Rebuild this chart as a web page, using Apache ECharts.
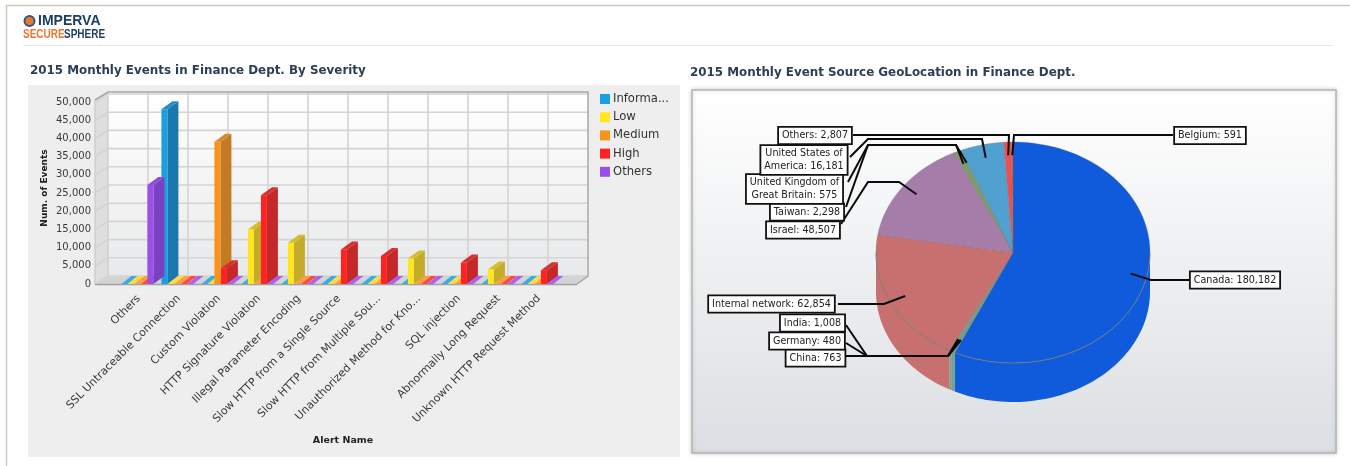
<!DOCTYPE html>
<html>
<head>
<meta charset="utf-8">
<style>
  html, body { margin: 0; padding: 0; background: #fff; }
  #main { width: 1350px; height: 466px; }
</style>
<script src="https://cdn.jsdelivr.net/npm/echarts@6/dist/echarts.min.js"></script>
</head>
<body>
<div id="main"></div>
<script>
const categories = ['Others', 'SSL Untraceable Connection', 'Custom Violation', 'HTTP Signature Violation',
  'Illegal Parameter Encoding', 'Slow HTTP from a Single Source', 'Slow HTTP from Multiple Sou...',
  'Unauthorized Method for Kno...', 'SQL injection', 'Abnormally Long Request', 'Unknown HTTP Request Method'];
const informational = [0, 48000, 0, 0, 0, 0, 0, 0, 0, 0, 0];
const low = [0, 0, 0, 15000, 11300, 0, 0, 7000, 0, 4000, 0];
const medium = [0, 0, 39100, 0, 0, 0, 0, 0, 0, 0, 0];
const high = [0, 0, 4300, 24400, 0, 9500, 7700, 0, 5900, 0, 3800];
const others = [27200, 0, 0, 0, 0, 0, 0, 0, 0, 0, 0];
const yTicks = [0, 5000, 10000, 15000, 20000, 25000, 30000, 35000, 40000, 45000, 50000];

const geoNames = ['Canada', 'China', 'Germany', 'India', 'Internal network', 'Israel', 'Taiwan',
  'United Kingdom of\nGreat Britain', 'United States of\nAmerica', 'Others', 'Belgium'];
const geoValues = [180182, 763, 480, 1008, 62854, 48507, 2298, 575, 16181, 2807, 591];

// front / side / floor colours per severity
const severity = [
  { name: 'Informa...', data: informational, front: '#1a9fe4', side: '#1b78ae', top: '#2a8cc4', flat: '#35ace8' },
  { name: 'Low', data: low, front: '#ffe61e', side: '#c4ac2a', top: '#d4bc30', flat: '#ffdc40' },
  { name: 'Medium', data: medium, front: '#f8941e', side: '#c47a22', top: '#d48a2a', flat: '#fba03c' },
  { name: 'High', data: high, front: '#ff2222', side: '#c42828', top: '#d43030', flat: '#ff4a3a' },
  { name: 'Others', data: others, front: '#9a50e8', side: '#7a40c2', top: '#8a4cd4', flat: '#aa60ee' }
];
const geoColors = ['#0f5bdc', '#74a08a', '#74a08a', '#74a08a', '#c87070', '#a67ca8', '#7c9c6c', '#7c9c6c', '#50a0d0', '#ee5050', '#ee5050'];

// label boxes and the elbows of their leader lines
const geoLabels = {
  'Canada': { x: 1235, y: 280, from: [1189, 280], bends: [[1151, 280]] },
  'China': { x: 815.5, y: 358, from: [846, 356], bends: [[867, 356], [948, 356]] },
  'Germany': { x: 807, y: 341, from: [846, 343], bends: [[867, 356], [948, 356]] },
  'India': { x: 812.5, y: 323, from: [846, 325], bends: [[867, 356], [948, 356]] },
  'Internal network': { x: 771.5, y: 304, from: [838, 304], bends: [[884, 304]] },
  'Israel': { x: 803, y: 230, from: [841, 224], bends: [[868, 182], [899, 182]] },
  'Taiwan': { x: 807, y: 212, from: [846, 207], bends: [[868, 145], [956, 145]] },
  'United Kingdom of\nGreat Britain': { x: 794.5, y: 189, from: [848, 182], bends: [[868, 145], [956, 145]] },
  'United States of\nAmerica': { x: 804, y: 160, from: [850, 157], bends: [[868, 139], [982, 139]] },
  'Others': { x: 815, y: 135.5, from: [853, 135], bends: [[1009, 135]] },
  'Belgium': { x: 1210, y: 135.5, from: [1173, 135], bends: [[1014, 135]] }
};

const chart = echarts.init(document.getElementById('main'));

// pie is an ellipse on screen, so it is built from the values here
const pieCx = 1013, pieCy = 252.5, pieRx = 137, pieRy = 110.5, pieDepth = 39;
const geoTotal = geoValues.reduce((a, b) => a + b, 0);
function sliceAngles(i) {
  let sum = 0;
  for (let k = 0; k < i; k++) sum += geoValues[k];
  return [sum / geoTotal * 360, (sum + geoValues[i]) / geoTotal * 360];
}
function rimPoint(deg, f, drop) {
  const a = deg * Math.PI / 180;
  return [pieCx + pieRx * f * Math.sin(a), pieCy - pieRy * f * Math.cos(a) + (drop || 0)];
}
function arcPoints(a0, a1, drop) {
  const pts = [];
  const n = Math.max(2, Math.ceil((a1 - a0) / 2));
  for (let k = 0; k <= n; k++) pts.push(rimPoint(a0 + (a1 - a0) * k / n, 1, drop));
  return pts;
}

function renderWalls(params, api) {
  const o = api.coord([0, 0]);
  const floorY = o[1];
  const topY = api.coord([0, 50000])[1];
  const left = 95, right = 577, dx = 13, dy = 8;
  const kids = [
    { type: 'polygon', shape: { points: [[left + dx, floorY - dy], [right + dx - 2, floorY - dy], [right + dx - 2, topY - 10], [left + dx, topY - 10]] },
      style: { fill: new echarts.graphic.LinearGradient(0, 0, 0, 1, [{ offset: 0, color: '#ffffff' }, { offset: 1, color: '#e8e9ea' }]) } },
    { type: 'polygon', shape: { points: [[left, floorY], [left + dx, floorY - dy], [left + dx, topY - 10], [left, topY - 2]] },
      style: { fill: '#dedede', stroke: '#c4c4c4', lineWidth: 1 } },
    { type: 'polygon', shape: { points: [[left, floorY], [right, floorY], [right + dx - 2, floorY - dy], [left + dx, floorY - dy]] },
      style: { fill: '#d4d4d4' } }
  ];
  yTicks.forEach(function (t) {
    const y = api.coord([0, t])[1];
    kids.push({ type: 'polyline', shape: { points: [[left, y], [left + dx, y - dy], [right + dx - 2, y - dy]] },
      style: { fill: 'none', stroke: '#d4d4d4', lineWidth: 1.6 } });
  });
  categories.forEach(function (c, i) {
    const x = api.coord([i, 0])[0] + dx;
    kids.push({ type: 'line', shape: { x1: x, y1: topY - 10, x2: x, y2: floorY - dy },
      style: { stroke: '#d4d4d4', lineWidth: 1.6 } });
  });
  kids.push({ type: 'polyline', shape: { points: [[left, topY - 2], [left + dx, topY - 10], [right + dx - 2, topY - 10], [right + dx - 2, floorY - dy], [right, floorY]] },
    style: { fill: 'none', stroke: '#a8a8a8', lineWidth: 1.5 } });
  kids.push({ type: 'line', shape: { x1: left, y1: floorY + 0.5, x2: right, y2: floorY + 0.5 }, style: { stroke: '#a0a0a0', lineWidth: 1.5 } });
  return { type: 'group', silent: true, children: kids };
}

function barRenderer(idx) {
  const s = severity[idx];
  return function (params, api) {
    const val = api.value(1);
    const b = api.coord([api.value(0), 0]);
    const t = api.coord([api.value(0), val]);
    const x0 = b[0] + (idx - 2) * 6.5 - 0.6, x1 = x0 + 6, dx = 11, dy = 8;
    if (!val) {
      return { type: 'polygon', silent: true,
        shape: { points: [[x0, b[1]], [x1, b[1]], [x1 + dx - 1, b[1] - dy], [x0 + dx - 1, b[1] - dy]] },
        style: { fill: s.flat } };
    }
    return { type: 'group', silent: true, children: [
      { type: 'polygon', shape: { points: [[x1, b[1]], [x1 + dx, b[1] - dy], [x1 + dx, t[1] - dy], [x1, t[1]]] }, style: { fill: s.side } },
      { type: 'polygon', shape: { points: [[x0, t[1]], [x1, t[1]], [x1 + dx, t[1] - dy], [x0 + dx, t[1] - dy]] }, style: { fill: s.top } },
      { type: 'rect', shape: { x: x0, y: t[1], width: x1 - x0, height: b[1] - t[1] }, style: { fill: s.front } }
    ] };
  };
}

function renderPieSide(params, api) {
  const ang = sliceAngles(params.dataIndex);
  const a0 = Math.max(ang[0], 90), a1 = Math.min(ang[1], 270);
  if (a1 <= a0) return null;
  const pts = arcPoints(a0, a1, 0).concat(arcPoints(a0, a1, pieDepth).reverse());
  return { type: 'polygon', silent: true, shape: { points: pts }, style: { fill: geoColors[params.dataIndex] } };
}

function renderPieTop(params, api) {
  const ang = sliceAngles(params.dataIndex);
  const pts = [[pieCx, pieCy]].concat(arcPoints(ang[0], ang[1], 0));
  return { type: 'polygon', silent: true, shape: { points: pts },
    style: { fill: geoColors[params.dataIndex], stroke: 'rgba(110,110,110,0.45)', lineWidth: 0.6 } };
}

function renderPieLabel(params, api) {
  const name = geoNames[params.dataIndex];
  const ang = sliceAngles(params.dataIndex);
  const lay = geoLabels[name];
  const end = rimPoint((ang[0] + ang[1]) / 2, 0.88);
  return { type: 'group', silent: true, children: [
    { type: 'polyline', shape: { points: [lay.from].concat(lay.bends, [end]) },
      style: { fill: 'none', stroke: '#0a0a0a', lineWidth: 2 } },
    { type: 'text', style: { text: name + ': ' + api.value(0).toLocaleString('en-US'), x: lay.x, y: lay.y,
        align: 'center', verticalAlign: 'middle', font: '9.6px "DejaVu Sans"', fill: '#222', lineHeight: 12.5,
        backgroundColor: '#fff', borderColor: '#111', borderWidth: 1.8, padding: [1.5, 3] } }
  ] };
}

const geoData = geoValues.map(function (v) { return [v]; });

const option = {
  animation: false,
  backgroundColor: '#ffffff',
  graphic: [
    { type: 'line', z: -10, shape: { x1: 6, y1: 5.5, x2: 1350, y2: 5.5 }, style: { stroke: '#cfc9c0', lineWidth: 1.5 } },
    { type: 'line', z: -10, shape: { x1: 6.5, y1: 5, x2: 6.5, y2: 466 }, style: { stroke: '#cfc9c0', lineWidth: 1.5 } },
    { type: 'line', z: -10, shape: { x1: 23, y1: 45.5, x2: 1333, y2: 45.5 }, style: { stroke: '#e8e8e8', lineWidth: 1 } },
    { type: 'rect', z: -10, shape: { x: 28, y: 85, width: 652, height: 372 }, style: { fill: '#eeeeee' } },
    { type: 'rect', z: -10, shape: { x: 692, y: 90, width: 644, height: 363 },
      style: { fill: new echarts.graphic.LinearGradient(0, 0, 0, 1, [{ offset: 0, color: '#ffffff' }, { offset: 1, color: '#dcdfe3' }]),
        stroke: '#b4b4b4', lineWidth: 1.5, shadowColor: 'rgba(0,0,0,0.18)', shadowBlur: 4 } },
    { type: 'circle', z: -5, shape: { cx: 29.5, cy: 21, r: 5 }, style: { fill: '#e9772d', stroke: '#2a5a86', lineWidth: 2 } },
    { type: 'text', z: -5, style: { text: 'IMPERVA', x: 38, y: 21, verticalAlign: 'middle', font: 'bold 14px "Liberation Sans"', fill: '#1c3f63' } },
    { type: 'text', z: -5, x: 23, y: 34, scaleY: 1.35, style: { text: 'SECURE', x: 0, y: 0, verticalAlign: 'middle', font: 'bold 10px "Liberation Sans"', fill: '#e9772d' } },
    { type: 'text', z: -5, x: 64, y: 34, scaleY: 1.35, style: { text: 'SPHERE', x: 0, y: 0, verticalAlign: 'middle', font: 'bold 10px "Liberation Sans"', fill: '#1c3f63' } },
    { type: 'text', z: -5, style: { text: '2015 Monthly Events in Finance Dept. By Severity', x: 30, y: 71, verticalAlign: 'middle', font: 'bold 11.9px "DejaVu Sans"', fill: '#2b4058' } },
    { type: 'text', z: -5, style: { text: '2015 Monthly Event Source GeoLocation in Finance Dept.', x: 690, y: 73, verticalAlign: 'middle', font: 'bold 11.9px "DejaVu Sans"', fill: '#2b4058' } }
  ],
  legend: {
    orient: 'vertical', left: 595, top: 88, icon: 'rect', itemWidth: 10, itemHeight: 10, itemGap: 6.2,
    selectedMode: false,
    data: severity.map(function (s) { return s.name; }),
    textStyle: { fontFamily: 'DejaVu Sans', fontSize: 11.6, color: '#333', padding: [0, 0, 0, -2] }
  },
  grid: { left: 115, top: 102, width: 440, height: 182 },
  xAxis: {
    type: 'category', data: categories,
    name: 'Alert Name', nameLocation: 'middle', nameGap: 152,
    nameTextStyle: { fontFamily: 'DejaVu Sans', fontSize: 9.5, fontWeight: 'bold', color: '#222', padding: [0, 0, 0, 16] },
    axisLine: { show: false }, axisTick: { show: false },
    axisLabel: { interval: 0, rotate: 45, margin: 9, verticalAlign: 'top', fontFamily: 'DejaVu Sans', fontSize: 11, color: '#3a3a3a' }
  },
  yAxis: {
    type: 'value', min: 0, max: 50000, interval: 5000, offset: 20,
    name: 'Num. of Events', nameLocation: 'middle', nameGap: 46,
    nameTextStyle: { fontFamily: 'DejaVu Sans', fontSize: 9, fontWeight: 'bold', color: '#222', padding: [0, 0, 0, 10] },
    axisLine: { show: false }, axisTick: { show: false }, splitLine: { show: false },
    axisLabel: { margin: 4, fontFamily: 'DejaVu Sans', fontSize: 10, color: '#3a3a3a',
      formatter: function (v) { return v.toLocaleString('en-US'); } }
  },
  series: [
    { type: 'custom', name: 'walls', z: 1, renderItem: renderWalls, data: [[0, 0]], encode: { x: 0, y: 1 } }
  ].concat(severity.map(function (s, idx) {
    return { type: 'custom', name: s.name, z: 2 + idx, renderItem: barRenderer(idx),
      itemStyle: { color: s.front }, encode: { x: 0, y: 1 },
      data: s.data.map(function (v, i) { return [i, v]; }) };
  }), [
    { type: 'custom', name: 'pieSide', coordinateSystem: 'none', z: 10, renderItem: renderPieSide, data: geoData },
    { type: 'custom', name: 'pieTop', coordinateSystem: 'none', z: 11, renderItem: renderPieTop, data: geoData },
    { type: 'custom', name: 'pieRim', coordinateSystem: 'none', z: 12, data: [[0]],
      renderItem: function () {
        return { type: 'polyline', silent: true, shape: { points: arcPoints(90, 270, 0) },
          style: { fill: 'none', stroke: 'rgba(120,125,125,0.8)', lineWidth: 1 } };
      } },
    { type: 'custom', name: 'pieLabels', coordinateSystem: 'none', z: 13, renderItem: renderPieLabel, data: geoData }
  ])
};

chart.setOption(option);
</script>
</body>
</html>
